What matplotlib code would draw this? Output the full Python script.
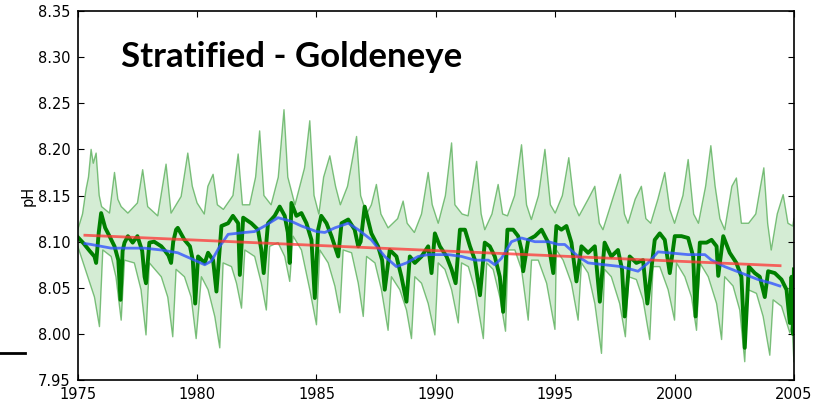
import numpy as np
import matplotlib
matplotlib.use('Agg')
import matplotlib.pyplot as plt
from matplotlib.lines import Line2D

# upper edge of the pH envelope (year, pH)
upper_pts = [
    (1975.0, 8.113), (1975.2, 8.130), (1975.35, 8.157), (1975.45, 8.170), (1975.56, 8.200),
    (1975.65, 8.185), (1975.77, 8.196), (1975.9, 8.150), (1976.0, 8.138), (1976.33, 8.131),
    (1976.54, 8.175), (1976.68, 8.146), (1976.82, 8.138), (1977.1, 8.131), (1977.5, 8.142),
    (1977.72, 8.178), (1977.93, 8.138), (1978.35, 8.128), (1978.55, 8.160), (1978.7, 8.184),
    (1978.91, 8.131), (1979.33, 8.149), (1979.61, 8.196), (1979.8, 8.160), (1980.0, 8.142),
    (1980.3, 8.130), (1980.45, 8.160), (1980.67, 8.173), (1980.85, 8.140), (1981.1, 8.135),
    (1981.5, 8.150), (1981.72, 8.195), (1981.9, 8.140), (1982.2, 8.140), (1982.45, 8.170),
    (1982.62, 8.220), (1982.8, 8.150), (1983.1, 8.140), (1983.4, 8.170), (1983.64, 8.243),
    (1983.8, 8.170), (1984.1, 8.140), (1984.5, 8.180), (1984.72, 8.231), (1984.9, 8.150),
    (1985.1, 8.130), (1985.3, 8.170), (1985.56, 8.193), (1985.8, 8.160), (1986.0, 8.140),
    (1986.3, 8.160), (1986.68, 8.214), (1986.85, 8.150), (1987.1, 8.130), (1987.3, 8.140),
    (1987.51, 8.162), (1987.7, 8.130), (1988.0, 8.115), (1988.4, 8.125), (1988.63, 8.144),
    (1988.8, 8.120), (1989.1, 8.110), (1989.4, 8.130), (1989.68, 8.175), (1989.85, 8.140),
    (1990.1, 8.120), (1990.4, 8.150), (1990.66, 8.207), (1990.8, 8.140), (1991.1, 8.130),
    (1991.35, 8.128), (1991.55, 8.160), (1991.71, 8.187), (1991.9, 8.130), (1992.05, 8.113),
    (1992.35, 8.130), (1992.61, 8.162), (1992.8, 8.130), (1993.0, 8.128), (1993.3, 8.150),
    (1993.59, 8.205), (1993.8, 8.140), (1994.0, 8.124), (1994.3, 8.150), (1994.57, 8.200),
    (1994.8, 8.140), (1995.0, 8.131), (1995.3, 8.150), (1995.57, 8.191), (1995.8, 8.140),
    (1996.0, 8.128), (1996.38, 8.146), (1996.66, 8.160), (1996.85, 8.120), (1997.0, 8.113),
    (1997.4, 8.146), (1997.73, 8.173), (1997.9, 8.130), (1998.05, 8.120), (1998.35, 8.146),
    (1998.61, 8.160), (1998.8, 8.125), (1999.0, 8.120), (1999.3, 8.146), (1999.59, 8.175),
    (1999.8, 8.135), (2000.0, 8.120), (2000.35, 8.150), (2000.57, 8.189), (2000.8, 8.130),
    (2001.0, 8.120), (2001.3, 8.160), (2001.52, 8.204), (2001.7, 8.160), (2001.9, 8.125),
    (2002.1, 8.113), (2002.4, 8.160), (2002.59, 8.169), (2002.8, 8.120), (2003.1, 8.120),
    (2003.4, 8.130), (2003.6, 8.160), (2003.74, 8.180), (2003.9, 8.120), (2004.05, 8.091),
    (2004.3, 8.130), (2004.55, 8.151), (2004.75, 8.120), (2004.95, 8.117), (2005.0, 8.125),
]

# lower edge of the pH envelope (year, pH)
lower_pts = [
    (1975.0, 8.095), (1975.42, 8.062), (1975.7, 8.040), (1975.91, 8.008), (1976.05, 8.091),
    (1976.4, 8.084), (1976.6, 8.062), (1976.82, 8.015), (1976.96, 8.080), (1977.37, 8.077),
    (1977.65, 8.048), (1977.86, 7.999), (1978.0, 8.077), (1978.5, 8.062), (1978.77, 8.040),
    (1978.98, 7.997), (1979.12, 8.070), (1979.47, 8.062), (1979.75, 8.040), (1979.96, 7.995),
    (1980.18, 8.062), (1980.46, 8.048), (1980.74, 8.019), (1980.95, 7.985), (1981.09, 8.077),
    (1981.44, 8.073), (1981.65, 8.055), (1981.86, 8.028), (1982.0, 8.091), (1982.41, 8.084),
    (1982.69, 8.055), (1982.9, 8.026), (1983.04, 8.095), (1983.39, 8.099), (1983.67, 8.084),
    (1983.88, 8.057), (1984.02, 8.106), (1984.37, 8.091), (1984.72, 8.048), (1985.0, 8.010),
    (1985.14, 8.091), (1985.49, 8.077), (1985.77, 8.052), (1985.98, 8.023), (1986.12, 8.091),
    (1986.47, 8.088), (1986.75, 8.055), (1986.96, 8.019), (1987.1, 8.084), (1987.45, 8.077),
    (1987.72, 8.048), (1988.0, 8.004), (1988.14, 8.062), (1988.49, 8.048), (1988.77, 8.026),
    (1988.98, 7.995), (1989.12, 8.062), (1989.4, 8.055), (1989.68, 8.033), (1989.96, 7.999),
    (1990.1, 8.077), (1990.38, 8.070), (1990.66, 8.048), (1990.94, 8.012), (1991.08, 8.077),
    (1991.36, 8.073), (1991.64, 8.048), (1991.99, 7.995), (1992.13, 8.077), (1992.4, 8.070),
    (1992.68, 8.040), (1992.92, 8.003), (1993.03, 8.091), (1993.31, 8.091), (1993.59, 8.070),
    (1993.87, 8.015), (1994.01, 8.080), (1994.29, 8.080), (1994.64, 8.055), (1994.99, 8.005),
    (1995.05, 8.091), (1995.33, 8.080), (1995.68, 8.055), (1995.96, 8.015), (1996.1, 8.077),
    (1996.38, 8.066), (1996.66, 8.033), (1996.94, 7.979), (1997.07, 8.070), (1997.35, 8.062),
    (1997.7, 8.033), (1997.94, 7.997), (1998.08, 8.062), (1998.4, 8.059), (1998.68, 8.037),
    (1998.96, 7.994), (1999.1, 8.073), (1999.38, 8.073), (1999.73, 8.048), (2000.0, 8.015),
    (2000.08, 8.077), (2000.43, 8.062), (2000.71, 8.040), (2000.92, 8.004), (2001.06, 8.077),
    (2001.41, 8.062), (2001.76, 8.033), (2001.97, 7.994), (2002.1, 8.062), (2002.45, 8.052),
    (2002.73, 8.026), (2002.94, 7.970), (2003.08, 8.048), (2003.43, 8.044), (2003.71, 8.019),
    (2003.99, 7.977), (2004.13, 8.037), (2004.48, 8.030), (2004.83, 8.001), (2004.92, 8.010),
    (2005.0, 7.970),
]

# mean pH (year, pH)
mean_pts = [
    (1975.0, 8.105), (1975.25, 8.098), (1975.5, 8.090), (1975.7, 8.084), (1975.77, 8.077),
    (1975.88, 8.110), (1975.98, 8.131), (1976.15, 8.115), (1976.33, 8.106), (1976.54, 8.095),
    (1976.7, 8.080), (1976.79, 8.037), (1976.88, 8.090), (1976.96, 8.099), (1977.1, 8.106),
    (1977.3, 8.099), (1977.5, 8.106), (1977.7, 8.090), (1977.8, 8.062), (1977.86, 8.055),
    (1978.0, 8.099), (1978.2, 8.100), (1978.5, 8.095), (1978.63, 8.091), (1978.8, 8.085),
    (1978.91, 8.077), (1979.0, 8.100), (1979.12, 8.113), (1979.19, 8.115), (1979.47, 8.102),
    (1979.7, 8.095), (1979.82, 8.080), (1979.92, 8.033), (1980.04, 8.084), (1980.32, 8.077),
    (1980.46, 8.088), (1980.67, 8.080), (1980.81, 8.046), (1981.02, 8.117), (1981.3, 8.120),
    (1981.5, 8.128), (1981.72, 8.120), (1981.79, 8.064), (1981.93, 8.126), (1982.27, 8.120),
    (1982.55, 8.113), (1982.69, 8.091), (1982.79, 8.066), (1982.97, 8.120), (1983.25, 8.128),
    (1983.46, 8.138), (1983.67, 8.128), (1983.8, 8.110), (1983.88, 8.077), (1983.95, 8.142),
    (1984.16, 8.128), (1984.37, 8.131), (1984.58, 8.120), (1984.79, 8.102), (1984.93, 8.039),
    (1985.07, 8.113), (1985.2, 8.128), (1985.42, 8.120), (1985.63, 8.106), (1985.91, 8.084),
    (1986.05, 8.120), (1986.33, 8.124), (1986.6, 8.113), (1986.75, 8.095), (1986.85, 8.100),
    (1987.02, 8.138), (1987.3, 8.109), (1987.58, 8.095), (1987.75, 8.080), (1987.86, 8.048),
    (1988.07, 8.091), (1988.35, 8.084), (1988.56, 8.062), (1988.77, 8.035), (1988.91, 8.084),
    (1989.12, 8.077), (1989.4, 8.084), (1989.68, 8.095), (1989.82, 8.066), (1989.96, 8.109),
    (1990.17, 8.095), (1990.45, 8.084), (1990.66, 8.070), (1990.83, 8.055), (1991.01, 8.113),
    (1991.22, 8.113), (1991.43, 8.095), (1991.64, 8.080), (1991.85, 8.042), (1992.05, 8.099),
    (1992.26, 8.095), (1992.47, 8.084), (1992.68, 8.062), (1992.82, 8.024), (1993.0, 8.113),
    (1993.24, 8.113), (1993.45, 8.106), (1993.6, 8.090), (1993.66, 8.068), (1993.87, 8.102),
    (1994.15, 8.106), (1994.43, 8.113), (1994.71, 8.099), (1994.92, 8.066), (1995.05, 8.117),
    (1995.26, 8.113), (1995.47, 8.117), (1995.68, 8.099), (1995.89, 8.057), (1996.1, 8.095),
    (1996.38, 8.088), (1996.66, 8.095), (1996.87, 8.035), (1997.07, 8.099), (1997.35, 8.084),
    (1997.63, 8.091), (1997.8, 8.070), (1997.91, 8.019), (1998.12, 8.084), (1998.4, 8.077),
    (1998.68, 8.080), (1998.86, 8.033), (1999.17, 8.102), (1999.38, 8.109), (1999.59, 8.102),
    (1999.8, 8.066), (2000.01, 8.106), (2000.29, 8.106), (2000.57, 8.104), (2000.78, 8.084),
    (2000.88, 8.019), (2001.06, 8.099), (2001.34, 8.099), (2001.55, 8.102), (2001.76, 8.095),
    (2001.83, 8.063), (2002.04, 8.106), (2002.31, 8.088), (2002.59, 8.077), (2002.8, 8.062),
    (2002.94, 7.985), (2003.11, 8.073), (2003.36, 8.066), (2003.57, 8.062), (2003.78, 8.040),
    (2003.92, 8.068), (2004.2, 8.066), (2004.48, 8.059), (2004.69, 8.048), (2004.83, 8.012),
    (2004.9, 8.062), (2004.96, 8.000), (2005.0, 8.070),
]

# smoothed pH (blue)
smooth_pts = [
    (1975.3, 8.098), (1975.56, 8.097), (1976.4, 8.093), (1977.8, 8.093), (1978.5, 8.091),
    (1979.19, 8.088), (1979.89, 8.080), (1980.32, 8.075), (1980.6, 8.079), (1980.95, 8.095),
    (1981.3, 8.108), (1982.0, 8.110), (1982.41, 8.111), (1982.83, 8.117), (1983.39, 8.126),
    (1983.95, 8.122), (1984.37, 8.117), (1985.0, 8.111), (1985.35, 8.110), (1985.77, 8.115),
    (1986.33, 8.120), (1986.75, 8.113), (1987.3, 8.102), (1987.86, 8.084), (1988.35, 8.073),
    (1988.77, 8.077), (1989.26, 8.084), (1989.68, 8.086), (1990.52, 8.086), (1991.08, 8.084),
    (1991.64, 8.080), (1992.2, 8.080), (1992.47, 8.075), (1992.75, 8.082), (1993.17, 8.100),
    (1993.59, 8.104), (1994.15, 8.100), (1994.71, 8.100), (1995.13, 8.097), (1995.4, 8.097),
    (1995.96, 8.084), (1996.38, 8.077), (1997.07, 8.075), (1997.77, 8.073), (1998.47, 8.068),
    (1998.89, 8.077), (1999.31, 8.089), (1999.73, 8.088), (2000.57, 8.086), (2001.27, 8.086),
    (2001.55, 8.080), (2002.1, 8.073), (2002.8, 8.066), (2003.5, 8.059), (2004.06, 8.055),
    (2004.41, 8.052),
]

# linear trend (red)
trend_years = [1975.3, 2004.42]
trend_ph = [8.107, 8.074]

ut, uv = np.array(upper_pts).T
lt, lv = np.array(lower_pts).T
mt, mv = np.array(mean_pts).T
st, sv = np.array(smooth_pts).T

fig = plt.figure(figsize=(8.27, 4.04), dpi=100)
ax = fig.add_axes([0.094, 0.059, 0.866, 0.914])

# envelope
ax.fill(np.r_[ut, lt[::-1]], np.r_[uv, lv[::-1]], color='#2ca02c', alpha=0.2, lw=0)
ax.plot(ut, uv, color='#2e9a2e', alpha=0.6, lw=1)
ax.plot(lt, lv, color='#2e9a2e', alpha=0.6, lw=1)

ax.plot(mt, mv, color='#008000', lw=2.8)
ax.plot(st, sv, color='#3355ff', lw=2, alpha=0.8)
ax.plot(trend_years, trend_ph, color='#ff3333', lw=2, alpha=0.75)

ax.set_xlim(1975, 2005)
ax.set_ylim(7.95, 8.35)
ax.set_xticks([1975, 1980, 1985, 1990, 1995, 2000, 2005])
ax.set_yticks(np.arange(7.95, 8.36, 0.05))
ax.yaxis.set_major_formatter(matplotlib.ticker.FormatStrFormatter('%.2f'))
ax.tick_params(direction='in', top=True, right=True, length=4, labelsize=10.5, pad=5)
for s in ax.spines.values():
    s.set_linewidth(1.2)
ax.set_ylabel('pH', fontsize=10.5, labelpad=2)

ax.text(0.061, 0.875, 'Stratified - Goldeneye', transform=ax.transAxes,
        fontsize=25, fontweight='bold', family='Lato', va='center', ha='left')

# stray dash left of the axes in the original slide
fig.add_artist(Line2D([0.0, 0.03], [0.126, 0.126], color='black', lw=2))

fig.savefig('out.png', dpi=100)
